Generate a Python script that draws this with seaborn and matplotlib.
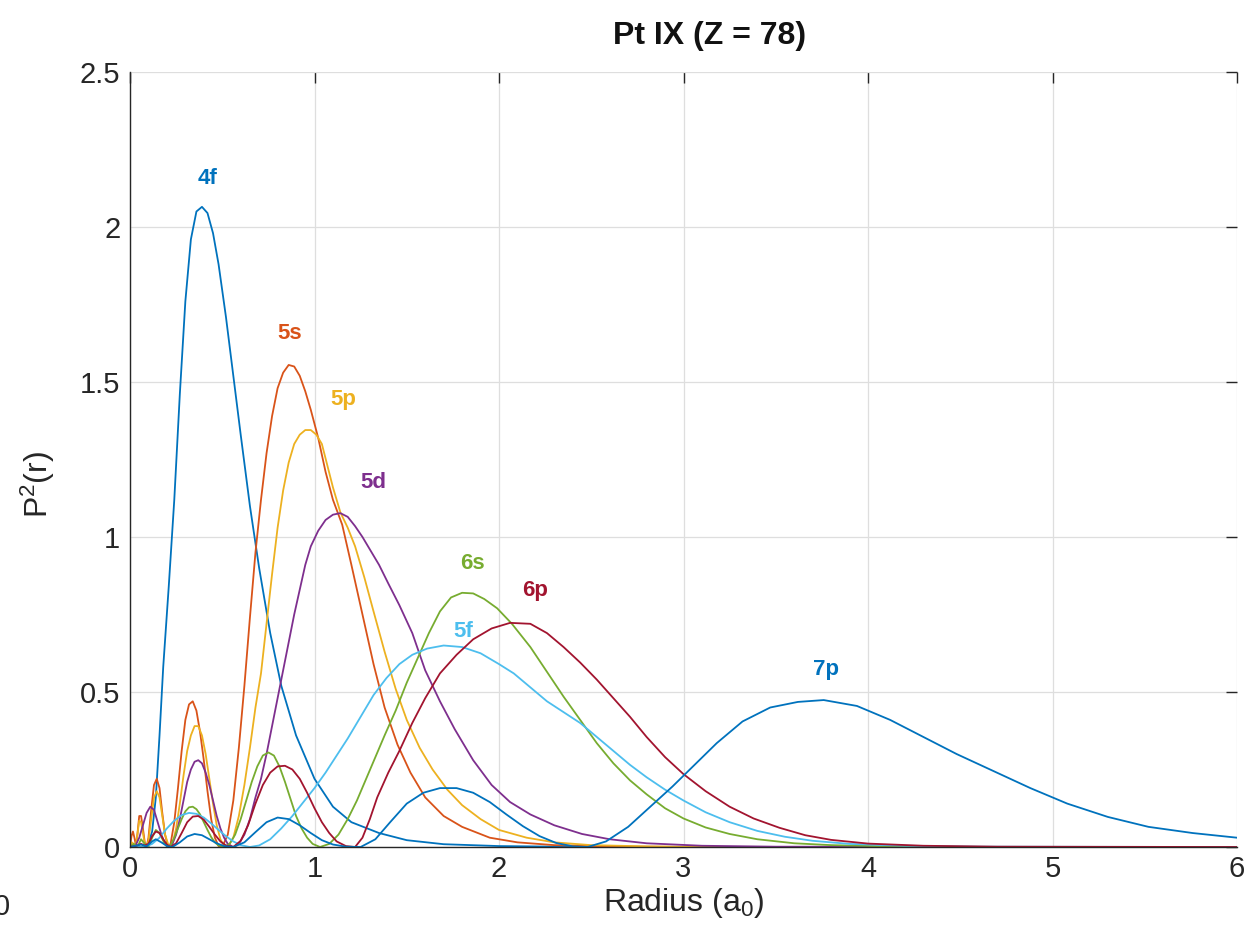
import matplotlib
matplotlib.use("Agg")
import matplotlib.pyplot as plt
import seaborn as sns
import pandas as pd

# ---------------- data ----------------
r_4f = [0, 0.05, 0.08, 0.10, 0.12, 0.14, 0.16, 0.18, 0.21, 0.24, 0.27, 0.30, 0.33, 0.36, 0.39, 0.42,
        0.45, 0.48, 0.52, 0.56, 0.60, 0.65, 0.70, 0.76, 0.82, 0.90, 1.00, 1.10, 1.20, 1.35, 1.50, 1.70,
        2.0, 2.5, 6.0]
p_4f = [0, 0.0, 0.003, 0.012, 0.05, 0.16, 0.36, 0.58, 0.84, 1.12, 1.46, 1.76, 1.96, 2.05, 2.065, 2.045,
        1.98, 1.88, 1.71, 1.52, 1.33, 1.10, 0.90, 0.69, 0.52, 0.36, 0.22, 0.13, 0.08, 0.045, 0.022, 0.009,
        0.003, 0.0, 0.0]

r_5s = [0, 0.008, 0.016, 0.024, 0.032, 0.04, 0.05, 0.06, 0.07, 0.08, 0.09, 0.10, 0.115, 0.13, 0.145,
        0.16, 0.175, 0.19, 0.205, 0.22, 0.24, 0.26, 0.28, 0.30, 0.32, 0.34, 0.36, 0.38, 0.40, 0.42, 0.44,
        0.46, 0.48, 0.50, 0.53, 0.56, 0.59, 0.62, 0.65, 0.68, 0.71, 0.74, 0.77, 0.80, 0.83, 0.86, 0.89,
        0.92, 0.95, 0.98, 1.02, 1.06, 1.10, 1.15, 1.20, 1.26, 1.32, 1.38, 1.45, 1.52, 1.60, 1.70, 1.80,
        1.95, 2.1, 2.3, 2.6, 3.0, 6.0]
p_5s = [0, 0.035, 0.05, 0.03, 0.005, 0.04, 0.10, 0.10, 0.06, 0.015, 0.0, 0.03, 0.12, 0.20, 0.22,
        0.19, 0.11, 0.04, 0.003, 0.01, 0.08, 0.19, 0.31, 0.41, 0.46, 0.47, 0.44, 0.37, 0.28, 0.18, 0.09,
        0.03, 0.003, 0.0, 0.04, 0.15, 0.32, 0.52, 0.74, 0.95, 1.12, 1.27, 1.39, 1.48, 1.53, 1.555, 1.55,
        1.52, 1.47, 1.41, 1.32, 1.21, 1.12, 1.04, 0.91, 0.75, 0.59, 0.45, 0.33, 0.24, 0.16, 0.10, 0.065,
        0.03, 0.015, 0.006, 0.002, 0.0, 0.0]

r_5p = [0, 0.01, 0.02, 0.03, 0.04, 0.05, 0.06, 0.07, 0.08, 0.09, 0.10, 0.115, 0.13, 0.145, 0.16, 0.175,
        0.19, 0.21, 0.23, 0.25, 0.27, 0.29, 0.31, 0.33, 0.35, 0.37, 0.39, 0.41, 0.43, 0.45, 0.47, 0.49,
        0.51, 0.53, 0.56, 0.59, 0.62, 0.65, 0.68, 0.71, 0.74, 0.77, 0.80, 0.83, 0.86, 0.89, 0.92, 0.95,
        0.98, 1.01, 1.04, 1.07, 1.10, 1.14, 1.18, 1.22, 1.27, 1.32, 1.38, 1.44, 1.50, 1.57, 1.64, 1.72,
        1.80, 1.90, 2.0, 2.15, 2.3, 2.5, 2.8, 3.2, 6.0]
p_5p = [0, 0.015, 0.01, 0.002, 0.04, 0.085, 0.08, 0.045, 0.01, 0.0, 0.02, 0.09, 0.16, 0.18, 0.16, 0.10,
        0.04, 0.003, 0.01, 0.06, 0.14, 0.23, 0.31, 0.36, 0.39, 0.39, 0.36, 0.30, 0.22, 0.14, 0.07, 0.025,
        0.003, 0.0, 0.03, 0.10, 0.20, 0.32, 0.45, 0.56, 0.72, 0.88, 1.03, 1.15, 1.24, 1.30, 1.33, 1.345,
        1.345, 1.33, 1.30, 1.23, 1.16, 1.08, 1.03, 0.97, 0.87, 0.76, 0.63, 0.51, 0.41, 0.32, 0.25, 0.185,
        0.135, 0.09, 0.055, 0.03, 0.015, 0.006, 0.002, 0.0, 0.0]

r_5d = [0, 0.03, 0.05, 0.07, 0.09, 0.11, 0.13, 0.15, 0.17, 0.19, 0.21, 0.23, 0.25, 0.27, 0.29, 0.31,
        0.33, 0.35, 0.37, 0.39, 0.41, 0.43, 0.45, 0.47, 0.49, 0.51, 0.53, 0.56, 0.59, 0.62, 0.65, 0.68,
        0.71, 0.74, 0.77, 0.80, 0.83, 0.86, 0.89, 0.92, 0.95, 0.98, 1.02, 1.06, 1.10, 1.14, 1.18, 1.22,
        1.26, 1.30, 1.35, 1.40, 1.46, 1.53, 1.60, 1.68, 1.76, 1.86, 1.96, 2.06, 2.17, 2.3, 2.45, 2.6,
        2.8, 3.1, 3.5, 6.0]
p_5d = [0, 0.005, 0.03, 0.07, 0.11, 0.13, 0.12, 0.08, 0.04, 0.01, 0.0, 0.01, 0.04, 0.09, 0.15, 0.21,
        0.25, 0.275, 0.28, 0.27, 0.24, 0.20, 0.15, 0.10, 0.06, 0.03, 0.01, 0.0, 0.01, 0.04, 0.09, 0.16,
        0.22, 0.30, 0.39, 0.48, 0.57, 0.66, 0.75, 0.83, 0.91, 0.97, 1.02, 1.055, 1.072, 1.077, 1.065, 1.035,
        1.0, 0.96, 0.91, 0.85, 0.78, 0.69, 0.57, 0.47, 0.38, 0.28, 0.20, 0.145, 0.105, 0.07, 0.042, 0.025,
        0.012, 0.004, 0.001, 0.0]

r_6s = [0, 0.02, 0.04, 0.06, 0.08, 0.10, 0.12, 0.14, 0.16, 0.18, 0.20, 0.22, 0.24, 0.26, 0.28, 0.30,
        0.32, 0.34, 0.36, 0.38, 0.40, 0.42, 0.44, 0.46, 0.48, 0.51, 0.54, 0.57, 0.60, 0.63, 0.66, 0.69,
        0.72, 0.75, 0.78, 0.81, 0.84, 0.87, 0.90, 0.93, 0.96, 0.99, 1.03, 1.08, 1.13, 1.18, 1.23, 1.28,
        1.33, 1.38, 1.44, 1.50, 1.56, 1.62, 1.68, 1.74, 1.80, 1.86, 1.92, 1.99, 2.07, 2.17, 2.26, 2.35,
        2.44, 2.53, 2.62, 2.71, 2.80, 2.90, 3.0, 3.12, 3.25, 3.4, 3.6, 3.8, 4.1, 4.5, 6.0]
p_6s = [0, 0.01, 0.0, 0.025, 0.01, 0.0, 0.03, 0.055, 0.045, 0.02, 0.002, 0.005, 0.03, 0.06, 0.09, 0.115,
        0.128, 0.13, 0.122, 0.105, 0.08, 0.055, 0.032, 0.015, 0.005, 0.0, 0.01, 0.04, 0.09, 0.15, 0.21, 0.26,
        0.295, 0.305, 0.295, 0.26, 0.21, 0.155, 0.10, 0.06, 0.03, 0.01, 0.0, 0.01, 0.04, 0.09, 0.15, 0.22,
        0.29, 0.36, 0.44, 0.53, 0.61, 0.69, 0.76, 0.805, 0.82, 0.818, 0.80, 0.77, 0.72, 0.645, 0.565, 0.485,
        0.41, 0.335, 0.27, 0.215, 0.17, 0.125, 0.092, 0.063, 0.042, 0.025, 0.012, 0.006, 0.002, 0.0, 0.0]

r_5f = [0, 0.08, 0.12, 0.16, 0.20, 0.24, 0.28, 0.32, 0.36, 0.40, 0.44, 0.48, 0.52, 0.56, 0.60, 0.65,
        0.70, 0.76, 0.82, 0.88, 0.94, 1.00, 1.06, 1.12, 1.18, 1.25, 1.32, 1.39, 1.46, 1.53, 1.61, 1.70,
        1.80, 1.90, 2.0, 2.08, 2.17, 2.26, 2.35, 2.44, 2.53, 2.62, 2.71, 2.80, 2.90, 3.0, 3.12, 3.25,
        3.4, 3.55, 3.7, 3.9, 4.2, 4.6, 6.0]
p_5f = [0, 0.0, 0.01, 0.03, 0.06, 0.085, 0.103, 0.11, 0.107, 0.095, 0.076, 0.055, 0.035, 0.018, 0.006, 0.0,
        0.005, 0.025, 0.06, 0.10, 0.145, 0.19, 0.24, 0.295, 0.35, 0.42, 0.49, 0.545, 0.59, 0.62, 0.64, 0.65,
        0.645, 0.625, 0.59, 0.56, 0.515, 0.47, 0.435, 0.40, 0.355, 0.31, 0.265, 0.225, 0.185, 0.15, 0.112, 0.08,
        0.052, 0.033, 0.02, 0.01, 0.004, 0.001, 0.0]

r_6p = [0, 0.04, 0.06, 0.08, 0.10, 0.12, 0.14, 0.16, 0.18, 0.20, 0.22, 0.25, 0.28, 0.31, 0.34, 0.37,
        0.40, 0.43, 0.46, 0.49, 0.52, 0.56, 0.60, 0.64, 0.68, 0.72, 0.76, 0.80, 0.84, 0.88, 0.92, 0.96,
        1.00, 1.04, 1.08, 1.12, 1.17, 1.22, 1.26, 1.30, 1.34, 1.40, 1.46, 1.53, 1.60, 1.68, 1.77, 1.86,
        1.96, 2.06, 2.17, 2.26, 2.35, 2.44, 2.53, 2.62, 2.71, 2.80, 2.90, 3.0, 3.12, 3.25, 3.38, 3.52,
        3.66, 3.8, 4.0, 4.3, 4.7, 6.0]
p_6p = [0, 0.005, 0.01, 0.005, 0.01, 0.035, 0.05, 0.045, 0.025, 0.008, 0.0, 0.012, 0.045, 0.08, 0.098, 0.10,
        0.088, 0.065, 0.04, 0.018, 0.005, 0.0, 0.02, 0.07, 0.14, 0.20, 0.24, 0.26, 0.262, 0.25, 0.22, 0.175,
        0.125, 0.08, 0.045, 0.018, 0.003, 0.0, 0.03, 0.09, 0.16, 0.24, 0.31, 0.40, 0.48, 0.56, 0.62, 0.67,
        0.705, 0.723, 0.72, 0.69, 0.645, 0.595, 0.54, 0.48, 0.42, 0.355, 0.29, 0.235, 0.18, 0.13, 0.092, 0.062,
        0.038, 0.023, 0.011, 0.004, 0.001, 0.0]

r_7p = [0, 0.06, 0.09, 0.12, 0.14, 0.17, 0.20, 0.23, 0.27, 0.31, 0.35, 0.39, 0.43, 0.47, 0.51, 0.56,
        0.62, 0.68, 0.74, 0.80, 0.86, 0.92, 0.98, 1.04, 1.10, 1.17, 1.25, 1.33, 1.41, 1.50, 1.59, 1.68,
        1.77, 1.86, 1.95, 2.04, 2.13, 2.22, 2.31, 2.40, 2.48, 2.58, 2.70, 2.82, 2.94, 3.06, 3.18, 3.32,
        3.47, 3.62, 3.76, 3.94, 4.12, 4.30, 4.48, 4.68, 4.88, 5.08, 5.30, 5.52, 5.76, 6.0]
p_7p = [0, 0.008, 0.002, 0.018, 0.025, 0.015, 0.003, 0.0, 0.015, 0.034, 0.042, 0.038, 0.025, 0.012, 0.003, 0.0,
        0.015, 0.048, 0.08, 0.095, 0.09, 0.07, 0.045, 0.022, 0.008, 0.001, 0.0, 0.025, 0.08, 0.14, 0.175, 0.19,
        0.19, 0.175, 0.145, 0.105, 0.067, 0.035, 0.013, 0.002, 0.0, 0.018, 0.065, 0.13, 0.195, 0.265, 0.335, 0.405,
        0.45, 0.468, 0.474, 0.455, 0.41, 0.355, 0.30, 0.245, 0.19, 0.14, 0.097, 0.065, 0.045, 0.03]

orbitals = ["4f", "5s", "5p", "5d", "6s", "5f", "6p", "7p"]
radii = [r_4f, r_5s, r_5p, r_5d, r_6s, r_5f, r_6p, r_7p]
densities = [p_4f, p_5s, p_5p, p_5d, p_6s, p_5f, p_6p, p_7p]

label_x = [0.423, 0.867, 1.154, 1.317, 1.854, 2.195, 1.805, 3.772]
label_y = [2.158, 1.658, 1.442, 1.177, 0.916, 0.829, 0.694, 0.571]
label_text = ["4f", "5s", "5p", "5d", "6s", "6p", "5f", "7p"]

x_ticks = [0, 1, 2, 3, 4, 5, 6]
y_ticks = [0, 0.5, 1, 1.5, 2, 2.5]
y_tick_labels = ["0", "0.5", "1", "1.5", "2", "2.5"]

colors = {"4f": "#0072BD", "5s": "#D95319", "5p": "#EDB120", "5d": "#7E2F8E",
          "6s": "#77AC30", "5f": "#4DBEEE", "6p": "#A2142F", "7p": "#0072BD"}

# ---------------- figure ----------------
sns.set_style("white")
plt.rcParams["font.family"] = ["Liberation Sans", "DejaVu Sans"]
plt.rcParams["mathtext.fontset"] = "custom"
plt.rcParams["mathtext.rm"] = "Liberation Sans"
plt.rcParams["mathtext.it"] = "Liberation Sans:italic"

fig = plt.figure(figsize=(12.48, 9.40), dpi=100)
ax = fig.add_axes([130 / 1248, 1 - 847 / 940, (1237 - 130) / 1248, (847 - 72) / 940])

for name, r, p in zip(orbitals, radii, densities):
    df = pd.DataFrame({"r": r, "p": p})
    sns.lineplot(data=df, x="r", y="p", ax=ax, color=colors[name], linewidth=1.3,
                 estimator=None, sort=False, legend=False)

for t, x, y in zip(label_text, label_x, label_y):
    ax.text(x, y, t, color=colors[t], fontsize=16, fontweight="bold", ha="center", va="center")

ax.set_xlim(0, 6)
ax.set_ylim(0, 2.5)
ax.set_xticks(x_ticks)
ax.set_xticklabels([str(v) for v in x_ticks])
ax.set_yticks(y_ticks)
ax.set_yticklabels(y_tick_labels)
ax.grid(True, color="#dedede", linewidth=0.9)
ax.set_axisbelow(True)
ax.tick_params(axis="both", direction="in", length=8, width=1.0, color="#262626",
               labelsize=21, labelcolor="#262626", top=True, right=True)
ax.tick_params(axis="x", pad=6)
ax.tick_params(axis="y", pad=7)
for side in ["left", "bottom"]:
    ax.spines[side].set_color("#262626")
    ax.spines[side].set_linewidth(1.0)
for side in ["top", "right"]:
    ax.spines[side].set_visible(False)

ax.set_xlabel("Radius (a$_0$)", fontsize=23, color="#262626", labelpad=2)
ax.set_ylabel("P$^2$(r)", fontsize=23, color="#262626")
ax.yaxis.set_label_coords(-0.066, 0.468)

fig.text(710 / 1248, 1 - 36 / 940, "Pt IX (Z = 78)", fontsize=23, fontweight="bold",
         color="#111111", ha="center", va="center")

fig.text(2 / 1248, 1 - 907 / 940, "0", fontsize=21, color="#262626", ha="center", va="center")

fig.savefig("out.png", dpi=100)
